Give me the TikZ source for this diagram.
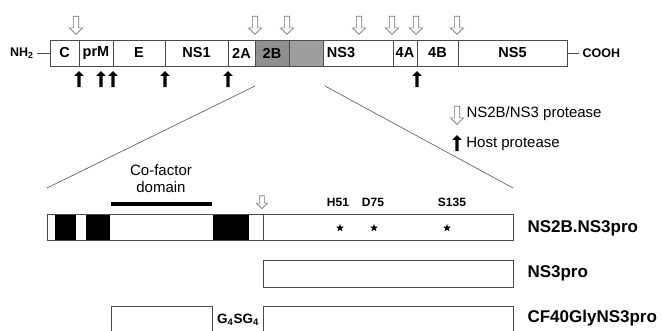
\documentclass[tikz,border=0pt]{standalone}
\usepackage{fontspec}
\setmainfont{Liberation Sans}
\usetikzlibrary{shapes.arrows, shapes.geometric, positioning}

\begin{document}
\begin{tikzpicture}[x=1pt, y=-1pt,
    seg/.style={rectangle, draw=black!70, line width=0.8pt, anchor=west,
                minimum height=26pt, inner sep=0pt, outer sep=0pt,
                font=\fontsize{14.5}{14.5}\selectfont\bfseries},
    blk/.style={rectangle, fill=black, anchor=west, minimum height=26pt,
                inner sep=0pt, outer sep=0pt},
    nsarrow/.style={single arrow, shape border rotate=270, draw=black!55,
                fill=white, line width=0.7pt, minimum height=18pt, inner sep=2.3pt,
                single arrow head extend=3.8pt, single arrow head indent=0pt},
    hostarrow/.style={single arrow, shape border rotate=90, fill=black,
                minimum height=16pt, inner sep=1.4pt,
                single arrow head extend=3pt, single arrow head indent=0pt},
    wire/.style={draw=black!70, line width=0.8pt},
    zoomline/.style={draw=black!60, line width=0.7pt},
    legtext/.style={font=\fontsize{15}{17}\selectfont},
    label/.style={font=\fontsize{17}{17}\selectfont\bfseries, anchor=west},
    residue/.style={font=\fontsize{12}{12}\selectfont\bfseries},
    site/.style={star, star points=5, star point ratio=2.4, fill=black,
                minimum size=8pt, inner sep=0pt}
]
\useasboundingbox (0,0) rectangle (662,331);

% Polyprotein
\node[seg, fill=black!38, minimum width=34pt] (NS3a) at (289,53) {};
\node[seg, minimum width=29pt] (C) at (50,53) {C};
\node[seg, minimum width=34pt] (prM) at (79,53) {prM};
\node[seg, minimum width=52pt] (E) at (113,53) {E};
\node[seg, minimum width=63pt] (NS1) at (165,53) {NS1};
\node[seg, minimum width=27pt] (2A) at (228,53) {2A};
\node[seg, minimum width=34pt, fill=black!44] (2B) at (255,53) {2B};
\node[seg, minimum width=104pt] (NS3) at (289,53) {NS3};
\node[seg, minimum width=24pt] (4A) at (393,53) {4A};
\node[seg, minimum width=41pt] (4B) at (417,53) {4B};
\node[seg, minimum width=109pt] (NS5) at (458,53) {NS5};

\node[font=\fontsize{12.5}{12.5}\selectfont\bfseries, anchor=east] (nh2) at (37,53) {NH\textsubscript{2}};
\node[font=\fontsize{12.5}{12.5}\selectfont\bfseries, anchor=west] (cooh) at (579,53) {COOH};
\draw[wire] (nh2.east) -- (C.west);
\draw[wire] (NS5.east) -- (cooh.west);

% NS2B/NS3 cleavage sites
\node[nsarrow] (p1) at (76,24) {};
\node[nsarrow] (p2) at (255,24) {};
\node[nsarrow] (p3) at (287,24) {};
\node[nsarrow] (p4) at (359,24) {};
\node[nsarrow] (p5) at (392,24) {};
\node[nsarrow] (p6) at (416,24) {};
\node[nsarrow] (p7) at (457,24) {};

% Host cleavage sites
\node[hostarrow] (h1) at (79,80) {};
\node[hostarrow] (h2) at (101,80) {};
\node[hostarrow] (h3) at (113,80) {};
\node[hostarrow] (h4) at (165,80) {};
\node[hostarrow] (h5) at (228,80) {};
\node[hostarrow] (h6) at (417,80) {};

% Legend
\node[nsarrow] (legp) at (457,114) {};
\node[legtext, right=3pt of legp] {NS2B/NS3 protease};
\node[hostarrow] (legh) at (457,144) {};
\node[legtext, right=4pt of legh] {Host protease};

% Zoom lines
\coordinate (zl) at (255,86);
\coordinate (zr) at (325,86);
\coordinate (zlb) at (47,188);
\coordinate (zrb) at (513,188);
\draw[zoomline] (zl) -- (zlb);
\draw[zoomline] (zr) -- (zrb);

% NS2B.NS3pro
\node[seg, minimum width=466pt] (pro) at (47,227) {};
\node[blk, minimum width=21pt] (b1) at (55,227) {};
\node[blk, minimum width=24pt] (b2) at (86,227) {};
\node[blk, minimum width=36pt] (b3) at (213,227) {};
\draw[wire] (263,214) -- (263,240);
\node[seg, minimum width=466pt] at (47,227) {};

\draw[line width=4pt] (111,204) -- (212,204);
\node[legtext, align=center] (cof) at (161,179) {Co-factor\\domain};
\node[nsarrow, minimum height=13pt, inner sep=2pt, single arrow head extend=3.2pt] (p8) at (262,201) {};

\node[residue] (H51) at (338,202) {H51};
\node[residue] (D75) at (373,202) {D75};
\node[residue] (S135) at (452,202) {S135};
\node[site] (s1) at (340,228) {};
\node[site] (s2) at (374,228) {};
\node[site] (s3) at (447,228) {};

% NS3pro
\node[seg, minimum width=250pt, minimum height=27pt] (ns3pro) at (263,273.5) {};

% CF40GlyNS3pro
\node[seg, minimum width=101pt, minimum height=28pt] (cf) at (111,320) {};
\node[seg, minimum width=250pt, minimum height=28pt] (gly) at (263,320) {};
\node[font=\fontsize{13.5}{13.5}\selectfont\bfseries] (linker) at (238,320) {G\textsubscript{4}SG\textsubscript{4}};

\node[label] at (524,228) {NS2B.NS3pro};
\node[label] at (524,273) {NS3pro};
\node[label] at (524,318) {CF40GlyNS3pro};

\end{tikzpicture}
\end{document}
